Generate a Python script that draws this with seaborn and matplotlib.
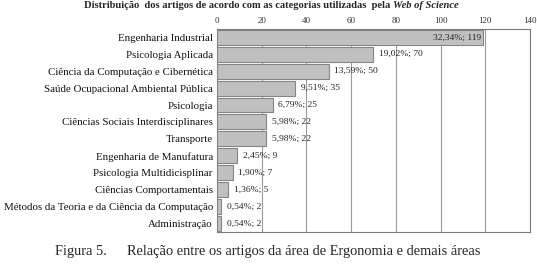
import matplotlib
matplotlib.use("Agg")
import matplotlib.pyplot as plt
import seaborn as sns
import pandas as pd

categorias = [
    "Engenharia Industrial",
    "Psicologia Aplicada",
    "Ciência da Computação e Cibernética",
    "Saúde Ocupacional Ambiental Pública",
    "Psicologia",
    "Ciências Sociais Interdisciplinares",
    "Transporte",
    "Engenharia de Manufatura",
    "Psicologia Multidicisplinar",
    "Ciências Comportamentais",
    "Métodos da Teoria e da Ciência da Computação",
    "Administração",
]
artigos = [119, 70, 50, 35, 25, 22, 22, 9, 7, 5, 2, 2]
percentuais = ["32,34%", "19,02%", "13,59%", "9,51%", "6,79%", "5,98%",
               "5,98%", "2,45%", "1,90%", "1,36%", "0,54%", "0,54%"]
ticks_x = [0, 20, 40, 60, 80, 100, 120, 140]

df = pd.DataFrame({"categoria": categorias, "artigos": artigos})

sns.set_theme(style="white")
plt.rcParams["font.family"] = ["Liberation Serif", "DejaVu Serif"]

fig = plt.figure(figsize=(5.37, 2.65), dpi=100)
ax = fig.add_axes([0.404, 0.125, 0.583, 0.766])

sns.barplot(data=df, y="categoria", x="artigos", orient="h", ax=ax,
            color="#c0c0c0", edgecolor="#858585", linewidth=0.8,
            width=0.88, saturation=1, zorder=3)

ax.set_xlim(0, 140)
ax.set_xticks(ticks_x)
ax.xaxis.tick_top()
ax.tick_params(axis="x", labelsize=6.5, colors="#333333", length=0, pad=3)
ax.tick_params(axis="y", labelsize=7.8, colors="#111111", length=0, pad=3)
ax.set_xlabel("")
ax.set_ylabel("")
ax.grid(axis="x", color="#9a9a9a", linewidth=0.8, zorder=0)
for s in ax.spines.values():
    s.set_color("#7a7a7a")
    s.set_linewidth(0.8)

# rótulos de dados
for i, (v, p) in enumerate(zip(artigos, percentuais)):
    txt = f"{p}; {v}"
    if i == 0:
        ax.text(v - 1, i, txt, ha="right", va="center", fontsize=6.8,
                color="#222222", zorder=4)
    else:
        ax.text(v + 2.5, i, txt, ha="left", va="center", fontsize=6.8,
                color="#222222", zorder=4)

# título (negrito + itálico)
fig.canvas.draw()
r = fig.canvas.get_renderer()
t1 = fig.text(0, 0.978, "Distribuição  dos artigos de acordo com as categorias utilizadas  pela ",
              fontsize=7.6, fontweight="bold", va="center", ha="left")
t2 = fig.text(0, 0.978, "Web of Science", fontsize=7.6, fontweight="bold",
              style="italic", va="center", ha="left")
w1 = t1.get_window_extent(r).width
w2 = t2.get_window_extent(r).width
W = fig.bbox.width
x0 = (271 - (w1 + w2) / 2) / W
t1.set_x(x0)
t2.set_x(x0 + w1 / W)

fig.text(55 / 537, 1 - 252 / 265, "Figura 5.", fontsize=10.4, va="center", ha="left")
fig.text(127 / 537, 1 - 252 / 265,
         "Relação entre os artigos da área de Ergonomia e demais áreas",
         fontsize=10.4, va="center", ha="left")

fig.savefig("out.png", dpi=100)
